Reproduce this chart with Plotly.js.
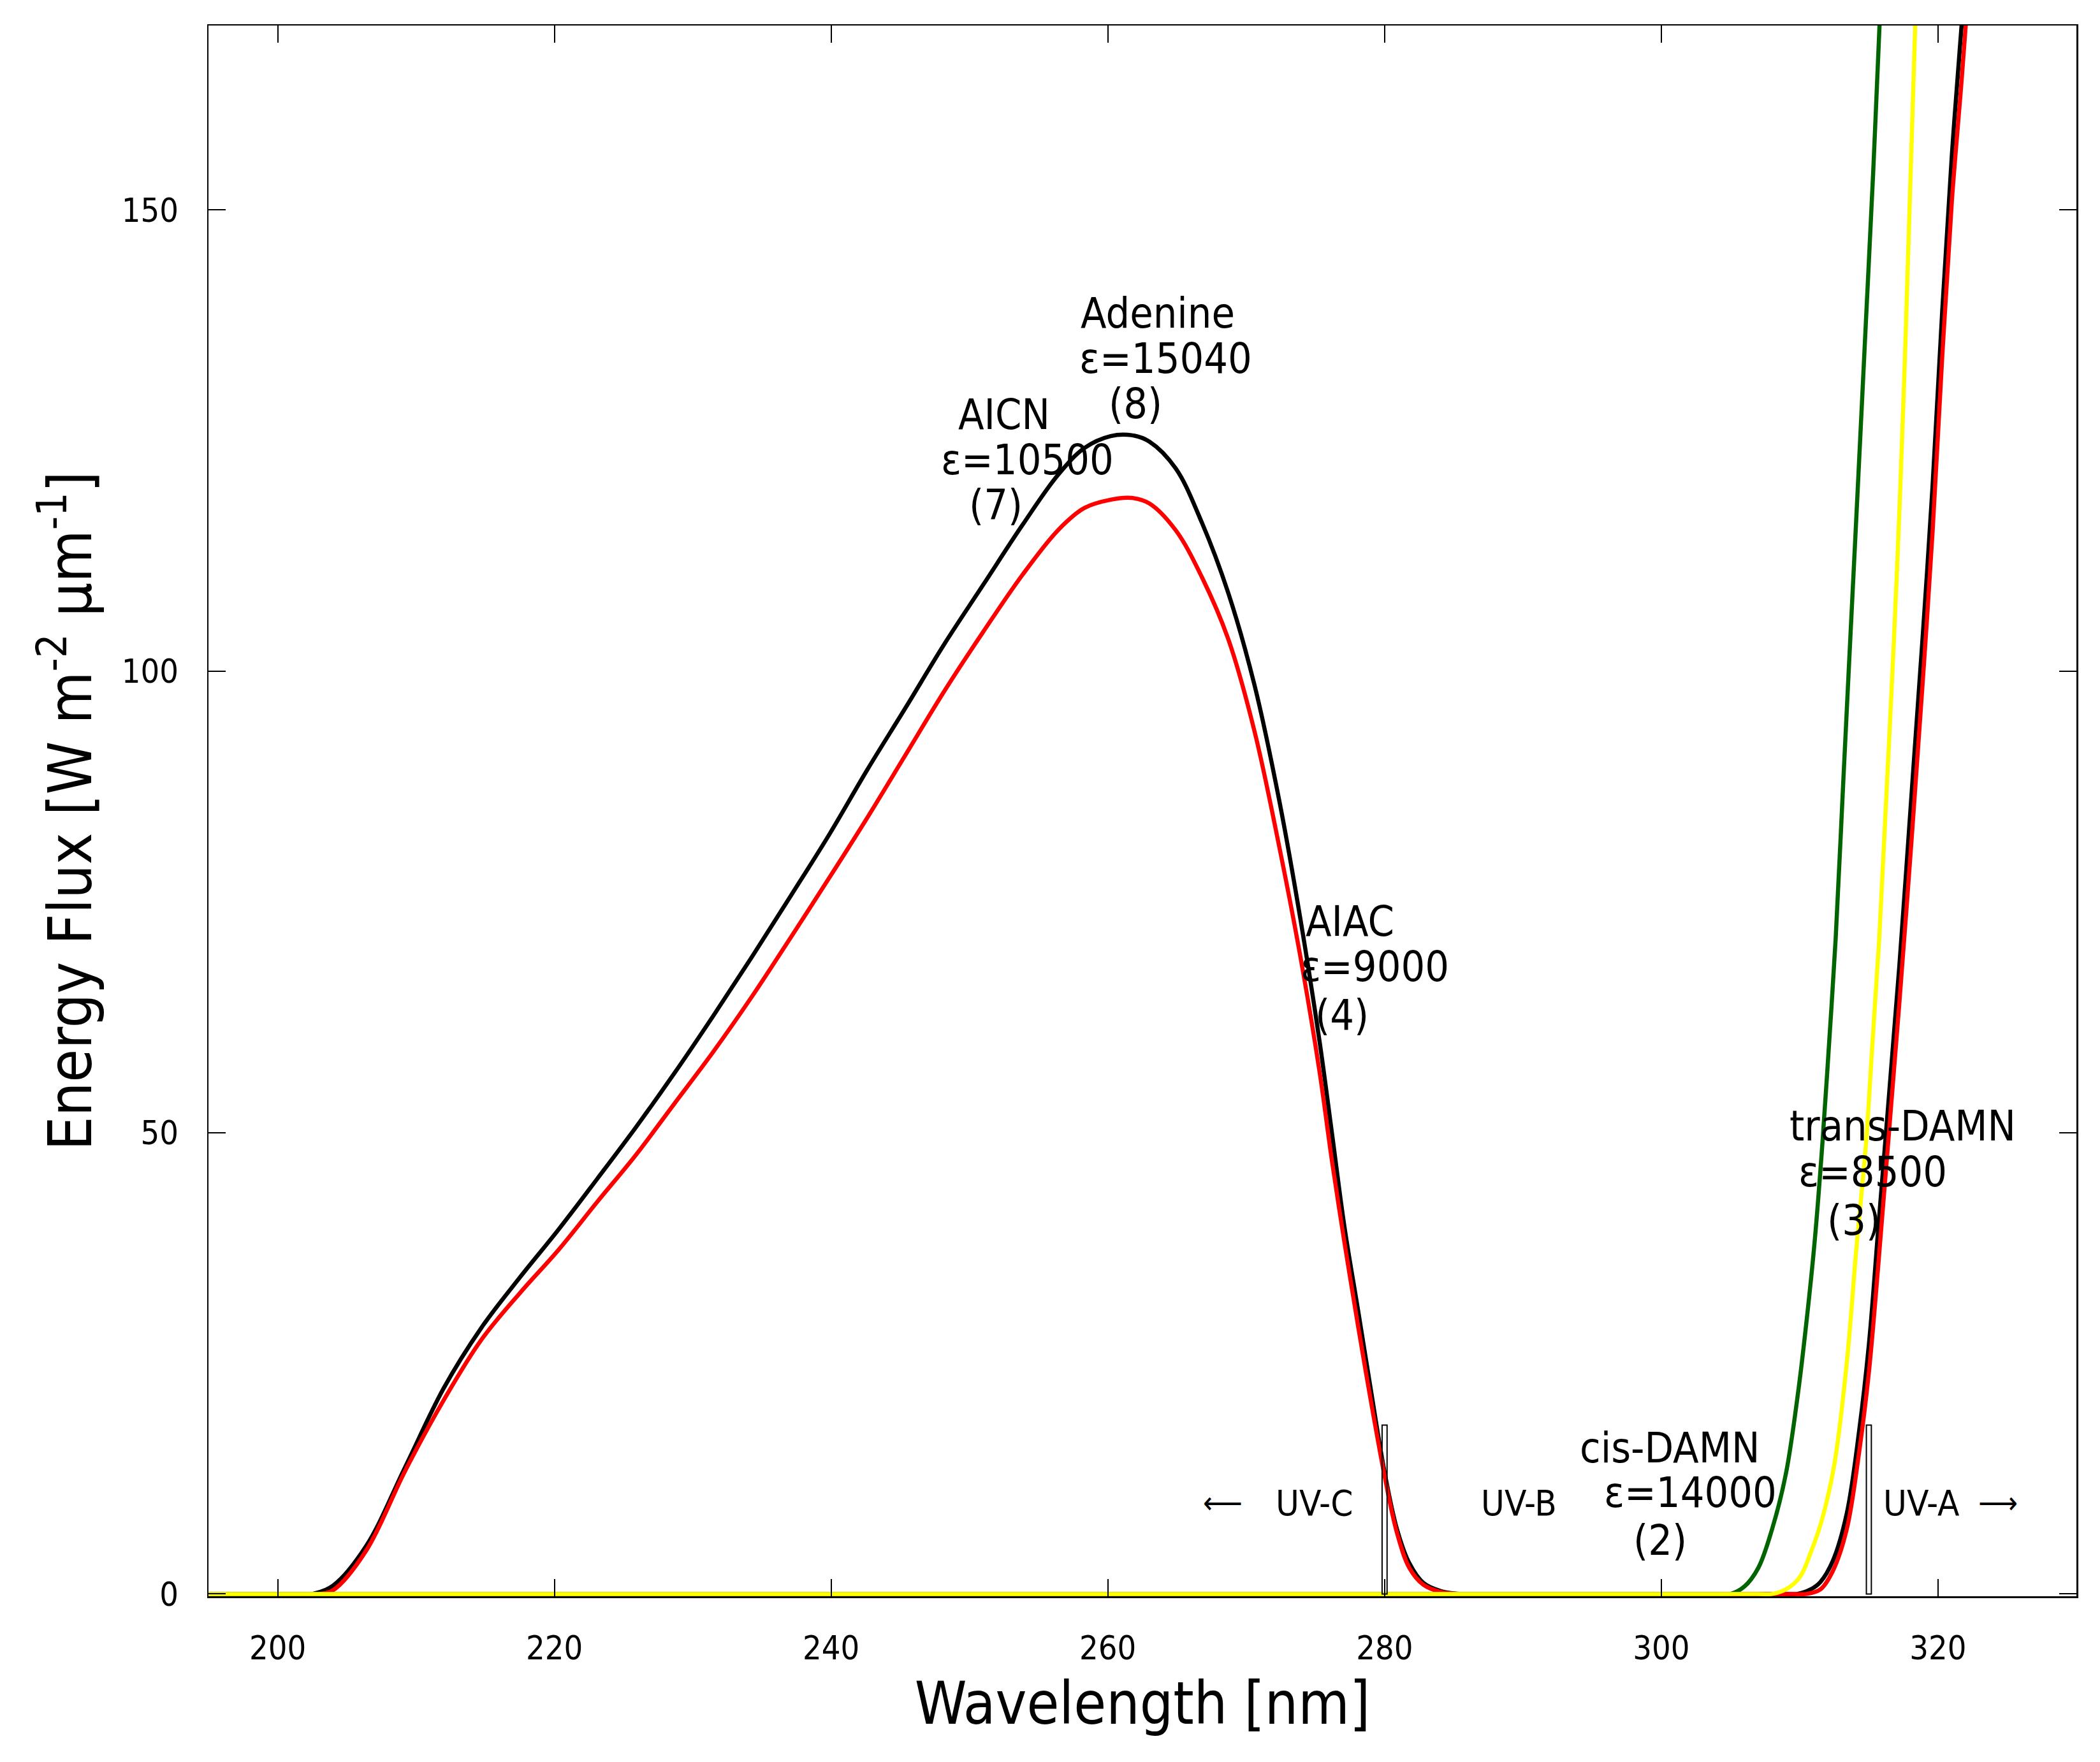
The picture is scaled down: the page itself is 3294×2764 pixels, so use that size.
<!DOCTYPE html>
<html>
<head>
<meta charset="utf-8">
<script src="https://cdn.plot.ly/plotly-3.0.1.min.js"></script>
<style>
  html, body { margin: 0; padding: 0; background: #fff; }
</style>
</head>
<body>
<div id="chart" style="width:3294px;height:2764px"></div>
<script>
// energy flux [W m-2 um-1] vs wavelength [nm]
const wlBlack = [195, 196, 201.5, 202.5, 204, 206.4, 209.2, 212, 214.7, 217.5, 220.3, 223.1, 225.9, 228.7, 231.5, 234.3, 237.1, 239.9, 242.6, 245.4, 248.2, 251, 253.8, 256.4, 258.3, 260.2, 261.7, 263, 264.9, 266.8, 268.7, 270.6, 272.4, 273.9, 275.3, 276.2, 277.1, 278.1, 279, 280, 280.9, 281.8, 282.8, 284.1, 285.5, 286.5,
                 308.8, 309.8, 310.8, 311.5, 312.4, 313.4, 314.3, 315, 315.7, 316.4, 317.2, 318.1, 318.9, 319.6, 320.3, 321, 321.7, 322];
const fluxBlack = [0, 0, 0, 0, 0.9, 5.2, 13.7, 22.3, 28.8, 34.3, 39.5, 45, 50.6, 56.5, 62.7, 69.1, 75.7, 82.4, 89.3, 96.1, 103, 109.4, 115.8, 121.3, 124.2, 125.5, 125.6, 124.9, 122, 116.1, 108.5, 98.5, 85.9, 73.3, 59.9, 49.9, 39.8, 30.6, 22.2, 13.2, 7, 3.3, 1.2, 0.3, 0, 0,
                   0, 0, 0.5, 1.3, 3.6, 8.7, 17.7, 27, 40, 53, 68, 87, 104, 120, 139, 156, 170, 176];

const wlRed = [195, 196, 202, 203, 204, 206.4, 209.2, 212, 214.7, 217.5, 220.3, 223.1, 225.9, 228.7, 231.5, 234.3, 237.1, 239.9, 242.6, 245.4, 248.2, 251, 253.8, 256.4, 258.3, 260.2, 261.7, 263, 264.9, 266.8, 268.7, 270.6, 272.4, 273.9, 275.3, 276.2, 277.1, 278.1, 279, 280, 280.9, 281.8, 282.8, 284.1, 285.5, 286.5,
               309.5, 310.5, 311.5, 312.4, 313.4, 314.3, 315, 315.7, 316.4, 317.2, 318.1, 318.9, 319.6, 320.3, 321, 321.7, 322.3];
const fluxRed = [0, 0, 0, 0, 0.4, 4.7, 13.3, 21, 27.5, 32.6, 37.3, 42.5, 47.6, 53.2, 58.8, 64.8, 71.2, 77.7, 84.1, 91, 97.9, 104.3, 110.4, 115.3, 117.7, 118.6, 118.8, 118.2, 115.3, 110.2, 103.5, 93.5, 80.9, 69.2, 56.6, 46.9, 38.1, 28.9, 21, 12.8, 6.6, 2.8, 1, 0.2, 0, 0,
                 0, 0, 0.5, 2.5, 7, 15.4, 24, 36, 49, 64, 82, 99, 115, 134, 151, 164, 176];

const wlGreen = [195, 196, 304, 305, 306, 307, 308, 309, 309.9, 310.6, 311.1, 311.65, 312.14, 312.6, 313.14, 313.68, 314.23, 314.77, 315.31, 315.77, 316];
const fluxGreen = [0, 0, 0, 0, 0.8, 2.8, 7, 13, 22, 31, 38.5, 49, 60, 71, 87.7, 104.2, 120.8, 137.4, 154, 170, 177];

const wlYellow = [195, 196, 307, 308, 309, 310, 310.8, 311.6, 312.5, 313.4, 314.1, 314.8, 315.25, 315.75, 316.25, 316.8, 317.25, 317.65, 318, 318.35, 318.5];
const fluxYellow = [0, 0, 0, 0, 0.5, 1.8, 4.5, 8, 14, 25, 37.5, 49, 59.5, 71, 86, 103, 119, 136, 153, 170, 177];

const xTicks = [200, 220, 240, 260, 280, 300, 320];
const yTicks = [0, 50, 100, 150];

const uvBounds = [280, 315];
const uvLabels = ["\u27F5", "UV-C", "UV-B", "UV-A", "\u27F6"];

const FONT = '"DejaVu Sans Condensed", "DejaVu Sans", sans-serif';

function curve(x, y, color) {
  return {
    x: x, y: y, type: "scatter", mode: "lines",
    line: { color: color, width: 6.5, shape: "spline", smoothing: 1 },
    hoverinfo: "skip", showlegend: false
  };
}

var data = [
  curve(wlBlack, fluxBlack, "#000000"),
  curve(wlRed, fluxRed, "#ff0000"),
  curve(wlGreen, fluxGreen, "#006400"),
  curve(wlYellow, fluxYellow, "#ffff00")
];

// one annotation per text line, gnuplot spaces them tighter than plotly
function label(text, x, y, size) {
  return {
    text: text, x: x, y: y, xref: "x", yref: "y",
    xanchor: "center", yanchor: "middle", showarrow: false,
    font: { family: FONT, size: size || 66, color: "#000" }
  };
}

var annotations = [
  label("Adenine", 263.6, 138.8), label("\u03b5=15040", 264.2, 133.9), label("(8)", 262.0, 129.0),
  label("AICN", 252.5, 127.8), label("\u03b5=10500", 254.2, 122.9), label("(7)", 251.9, 118.0),
  label("AIAC", 277.5, 72.9), label("\u03b5=9000", 279.3, 68.0), label("(4)", 276.9, 62.75),
  label("trans-DAMN", 317.45, 50.7), label("\u03b5=8500", 315.3, 45.7), label("(3)", 313.9, 40.5),
  label("cis-DAMN", 300.6, 15.8), label("\u03b5=14000", 302.1, 11.0), label("(2)", 299.9, 5.8),
  label(uvLabels[0], 268.3, 9.9, 48), label(uvLabels[1], 274.9, 9.9, 56),
  label(uvLabels[2], 289.7, 9.9, 56), label(uvLabels[3], 318.8, 9.9, 56),
  label(uvLabels[4], 324.35, 9.9, 48)
];

var shapes = uvBounds.map(function (b) {
  return {
    type: "rect", xref: "x", yref: "y",
    x0: b - 0.18, x1: b + 0.18, y0: 0, y1: 18.3,
    line: { color: "#000", width: 2 }, fillcolor: "rgba(0,0,0,0)"
  };
});

var axisCommon = {
  ticks: "inside", ticklen: 27, tickwidth: 2, tickcolor: "#000",
  showline: true, linewidth: 2.5, linecolor: "#000", mirror: "ticks",
  showgrid: false, zeroline: false,
  tickfont: { family: FONT, size: 52, color: "#000" }
};

var layout = {
  width: 3294, height: 2764,
  margin: { l: 327, r: 37, t: 40, b: 260 },
  paper_bgcolor: "#fff", plot_bgcolor: "#fff",
  font: { family: FONT, color: "#000" },
  showlegend: false,
  xaxis: Object.assign({}, axisCommon, {
    range: [195, 330], tickvals: xTicks, ticklabelstandoff: 34,
    title: { text: "Wavelength [nm]", font: { family: FONT, size: 92, color: "#000" }, standoff: 26 }
  }),
  yaxis: Object.assign({}, axisCommon, {
    range: [-0.25, 170], tickvals: yTicks, ticklabelstandoff: 34,
    title: { text: "Energy Flux [W m<sup>-2</sup> \u03bcm<sup>-1</sup>]", font: { family: FONT, size: 94, color: "#000" }, standoff: 16 }
  }),
  annotations: annotations,
  shapes: shapes
};

Plotly.newPlot("chart", data, layout, { staticPlot: true });
</script>
</body>
</html>
